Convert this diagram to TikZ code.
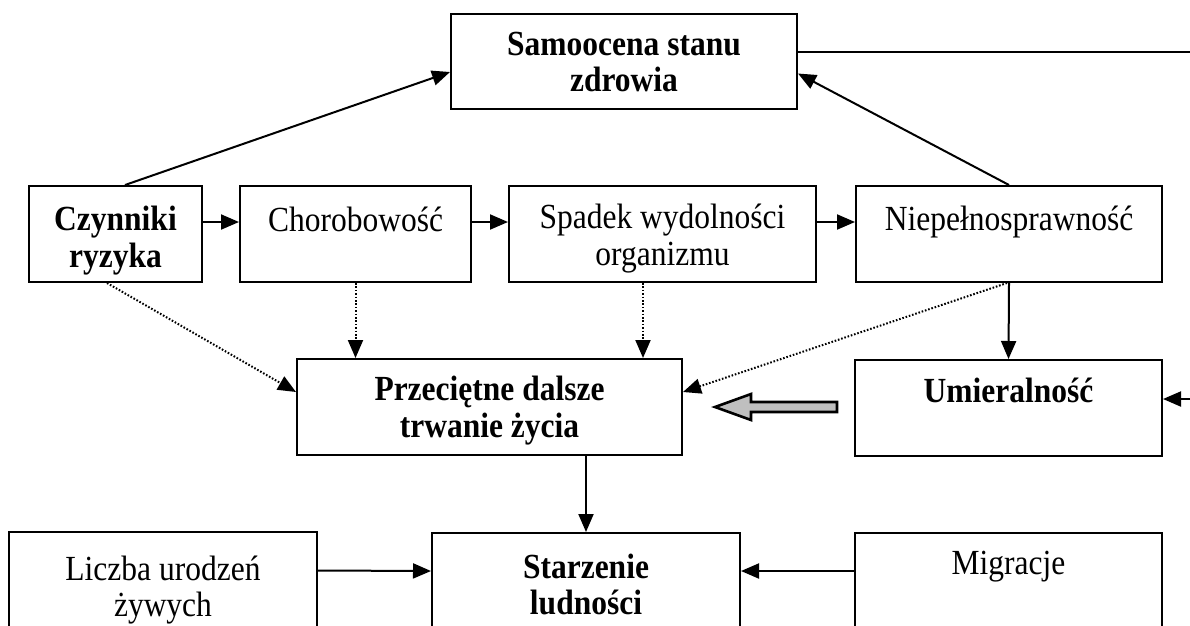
\documentclass[tikz,border=0pt]{standalone}
\usepackage{fontspec}
\usepackage{graphicx}
\setmainfont{Liberation Serif}
\usetikzlibrary{arrows.meta}
\newcommand{\twoline}[2]{\scalebox{1}[1.12]{\begin{tabular}[t]{@{}c@{}}#1\\#2\end{tabular}}}
\newcommand{\oneline}[1]{\scalebox{1}[1.12]{#1}}
\begin{document}
\begin{tikzpicture}[x=1pt,y=-1pt,
  box/.style={draw,line width=2pt,inner sep=0pt},
  txt/.style={anchor=base,inner sep=0pt,font=\fontsize{31.5}{33}\selectfont},
  btxt/.style={txt,font=\fontsize{31.5}{33}\selectfont\bfseries},
  arr/.style={line width=2pt,-{Triangle[length=18pt,width=15pt]}},
  dotarr/.style={line width=2pt,dash pattern=on 1.6pt off 1.8pt,-{Triangle[length=18pt,width=15pt]}},
  plain/.style={line width=2pt}]
\useasboundingbox (0,0) rectangle (1190,625);
\clip (0,0) rectangle (1190,625);
\fill[white] (0,0) rectangle (1190,625);
% boxes
\node[box,minimum width=346pt,minimum height=95pt] (samo) at (624,61.5) {};
\node[box,minimum width=173pt,minimum height=96pt] (czyn) at (115.5,234) {};
\node[box,minimum width=231pt,minimum height=96pt] (chor) at (355.5,234) {};
\node[box,minimum width=307pt,minimum height=96pt] (spad) at (662.5,234) {};
\node[box,minimum width=306pt,minimum height=96pt] (niep) at (1009,234) {};
\node[box,minimum width=385pt,minimum height=96pt] (prze) at (489.5,407) {};
\node[box,minimum width=307pt,minimum height=96pt] (umie) at (1008.5,408) {};
\node[box,minimum width=308pt,minimum height=108pt] (licz) at (163,586) {};
\node[box,minimum width=308pt,minimum height=107pt] (star) at (586,586.5) {};
\node[box,minimum width=307pt,minimum height=107pt] (migr) at (1008.5,586.5) {};
% texts
\node[btxt] (tsamo) at (624,55) {\twoline{Samoocena stanu}{zdrowia}};
\node[btxt] (tczyn) at (115.5,230.5) {\twoline{Czynniki}{ryzyka}};
\node[txt] (tchor) at (355.5,231) {\oneline{Chorobowość}};
\node[txt] (tspad) at (662.5,228.5) {\twoline{Spadek wydolności}{organizmu}};
\node[txt] (tniep) at (1009,230.5) {\oneline{Niepełnosprawność}};
\node[btxt] (tprze) at (489.5,400.5) {\twoline{Przeciętne dalsze}{trwanie życia}};
\node[btxt] (tumie) at (1008.5,402) {\oneline{Umieralność}};
\node[txt] (tlicz) at (163,580) {\twoline{Liczba urodzeń}{żywych}};
\node[btxt] (tstar) at (586,578) {\twoline{Starzenie}{ludności}};
\node[txt] (tmigr) at (1008.5,574) {\oneline{Migracje}};
% free ends / helper points
\coordinate (rtop) at (1190,52);
\coordinate (rmid) at (1190,399);
\coordinate (spadout) at ([xshift=-19.5pt]spad.south);
% connectors
\draw[arr] ([yshift=12pt]czyn.east) -- ([yshift=12pt]chor.west);
\draw[arr] ([yshift=12pt]chor.east) -- ([yshift=12pt]spad.west);
\draw[arr] ([yshift=12pt]spad.east) -- ([yshift=12pt]niep.west);
\draw[arr] ([xshift=9.5pt]czyn.north) -- ([yshift=-10.5pt]samo.west);
\draw[arr] (niep.north) -- ([yshift=-12pt]samo.east);
\draw[plain] ([yshift=9.5pt]samo.east) -- (rtop);
\draw[dotarr] ([xshift=-8.5pt]czyn.south) -- ([yshift=15pt]prze.west);
\draw[dotarr] (chor.south) -- (prze.north -| chor.south);
\draw[dotarr] (spadout) -- (prze.north -| spadout);
\draw[dotarr] ([xshift=-2pt]niep.south) -- ([yshift=15pt]prze.east);
\draw[arr] (niep.south) -- (umie.north);
\draw[arr] (rmid) -- ([yshift=9pt]umie.east);
\draw[arr] (prze.south -| star.north) -- (star.north);
\draw[arr] ([yshift=15.5pt]licz.east) -- ([yshift=15.5pt]star.west);
\draw[arr] ([yshift=15.5pt]migr.west) -- ([yshift=15.5pt]star.east);
% hollow arrow
\draw[line width=2.6pt,fill=black!25,line join=miter]
  (837,402) -- (751,402) -- (751,394) -- (715,407) -- (751,420) -- (751,412) -- (837,412) -- cycle;
\end{tikzpicture}
\end{document}
